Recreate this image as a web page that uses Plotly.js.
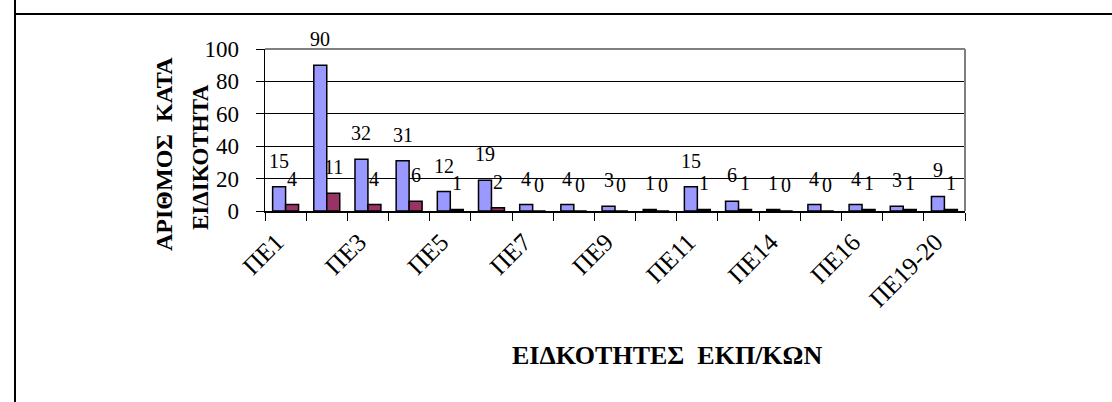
<!DOCTYPE html>
<html>
<head>
<meta charset="utf-8">
<script src="https://cdn.plot.ly/plotly-3.0.1.min.js"></script>
<style>
  html, body { margin: 0; padding: 0; background: #ffffff; }
  #chart { width: 1112px; height: 402px; }
</style>
</head>
<body>
<div id="chart"></div>
<script>
// ---- data ----
const categories = ['ΠΕ1','ΠΕ2','ΠΕ3','ΠΕ4','ΠΕ5','ΠΕ6','ΠΕ7','ΠΕ8','ΠΕ9','ΠΕ10','ΠΕ11','ΠΕ12-13','ΠΕ14','ΠΕ15','ΠΕ16','ΠΕ17-18','ΠΕ19-20'];
const tickLabels = ['ΠΕ1','','ΠΕ3','','ΠΕ5','','ΠΕ7','','ΠΕ9','','ΠΕ11','','ΠΕ14','','ΠΕ16','','ΠΕ19-20'];
const seriesA = [15, 90, 32, 31, 12, 19, 4, 4, 3, 1, 15, 6, 1, 4, 4, 3, 9];
const seriesB = [4, 11, 4, 6, 1, 2, 0, 0, 0, 0, 1, 1, 0, 0, 1, 1, 1];
const yTitleLine1 = 'ΑΡΙΘΜΟΣ\u00A0\u00A0ΚΑΤΑ';
const yTitleLine2 = 'ΕΙΔΙΚΟΤΗΤΑ';
const xTitle = 'ΕΙΔΚΟΤΗΤΕΣ\u00A0\u00A0ΕΚΠ/ΚΩΝ';

// ---- layout geometry ----
const W = 1112, H = 402;
const M = {l: 265, r: 147, t: 49, b: 191};
const plotW = W - M.l - M.r, plotH = H - M.t - M.b;
const bargap = 0.37;
const px2x = p => (p - M.l) / plotW;
const px2y = p => (H - M.b - p) / plotH;

const serif = '"Liberation Serif", "Times New Roman", Times, serif';
const catW = plotW / categories.length;
const barOff = catW * (1 - bargap) / 4;

const barStyle = (color) => ({color: color, line: {color: '#000000', width: 1.5}});

const traces = [
  {type: 'bar', x: categories, y: seriesA, name: 'Σειρά 1', marker: barStyle('#9999FF'), hoverinfo: 'x+y'},
  {type: 'bar', x: categories, y: seriesB, name: 'Σειρά 2', marker: barStyle('#993366'), hoverinfo: 'x+y'}
];

const annotations = [];
[[seriesA, -barOff], [seriesB, barOff]].forEach(([vals, sh]) => {
  vals.forEach((v, i) => {
    annotations.push({
      x: categories[i], y: v, xref: 'x', yref: 'y', text: String(v),
      showarrow: false, xanchor: 'center', yanchor: 'bottom',
      xshift: sh, yshift: 13,
      font: {family: serif, size: 20, color: '#000000'}
    });
  });
});
annotations.push({
  xref: 'paper', yref: 'paper', x: px2x(164), y: px2y(154), text: yTitleLine1,
  textangle: -90, showarrow: false, xanchor: 'center', yanchor: 'middle',
  font: {family: serif, size: 24, color: '#000000', weight: 'bold'}
});
annotations.push({
  xref: 'paper', yref: 'paper', x: px2x(200), y: px2y(157), text: yTitleLine2,
  textangle: -90, showarrow: false, xanchor: 'center', yanchor: 'middle',
  font: {family: serif, size: 23, color: '#000000', weight: 'bold'}
});
annotations.push({
  xref: 'paper', yref: 'paper', x: px2x(510), y: px2y(355.5), text: xTitle,
  showarrow: false, xanchor: 'left', yanchor: 'middle',
  font: {family: serif, size: 26, color: '#000000', weight: 'bold'}
});

const shapes = [
  {type: 'line', xref: 'paper', yref: 'paper', x0: 0, x1: 1, y0: 1, y1: 1, line: {color: '#808080', width: 2}, layer: 'above'},
  {type: 'line', xref: 'paper', yref: 'paper', x0: 1, x1: 1, y0: 0, y1: 1, line: {color: '#808080', width: 2}, layer: 'above'},
  {type: 'line', xref: 'paper', yref: 'paper', x0: px2x(15), x1: px2x(1112), y0: px2y(14), y1: px2y(14), line: {color: '#000000', width: 2}, layer: 'above'},
  {type: 'line', xref: 'paper', yref: 'paper', x0: px2x(15), x1: px2x(15), y0: px2y(0), y1: px2y(402), line: {color: '#000000', width: 2}, layer: 'above'}
];

const layout = {
  width: W, height: H,
  margin: M,
  paper_bgcolor: '#ffffff', plot_bgcolor: '#ffffff',
  barmode: 'group', bargap: bargap, bargroupgap: 0,
  showlegend: false,
  font: {family: serif, color: '#000000'},
  xaxis: {
    type: 'category',
    tickmode: 'array', tickvals: categories, ticktext: tickLabels,
    tickson: 'boundaries', ticks: 'outside', ticklen: 8, tickcolor: '#000000', tickwidth: 1,
    tickangle: -45, tickfont: {family: serif, size: 25, color: '#000000'},
    ticklabelstandoff: 5, ticklabelshift: -9,
    showline: true, linecolor: '#000000', linewidth: 1.5,
    showgrid: false, zeroline: false, automargin: false
  },
  yaxis: {
    range: [0, 100], dtick: 20, tick0: 0,
    ticks: 'outside', ticklen: 8, tickcolor: '#000000', tickwidth: 1,
    tickfont: {family: serif, size: 23, color: '#000000'},
    ticklabelstandoff: 12,
    showline: true, linecolor: '#000000', linewidth: 1.5,
    showgrid: true, gridcolor: '#000000', gridwidth: 1,
    zeroline: false, automargin: false
  },
  annotations: annotations,
  shapes: shapes
};

Plotly.newPlot('chart', traces, layout, {displayModeBar: false, staticPlot: true});
</script>
</body>
</html>
